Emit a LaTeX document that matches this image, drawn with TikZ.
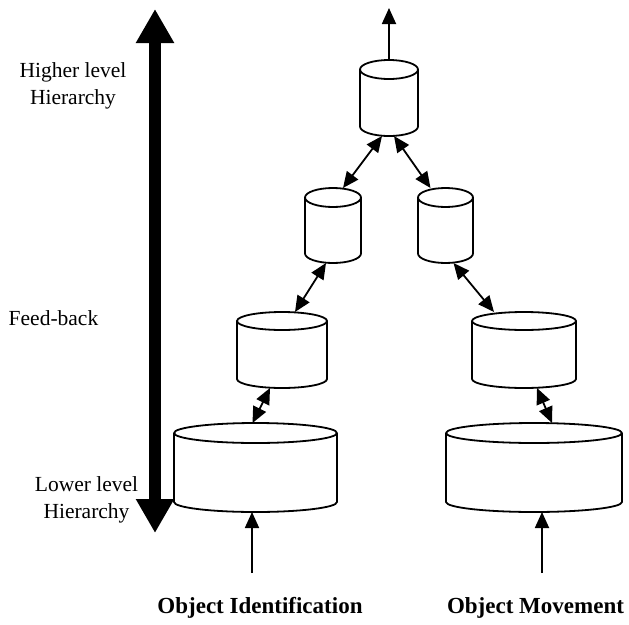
\documentclass[tikz,border=0pt]{standalone}
\usepackage{fontspec}
\setmainfont{Liberation Serif}
\usetikzlibrary{arrows.meta,calc}

\newcommand{\drawstore}[3]{%
  \draw[storeline] ($(#1.north west)+(0,#3)$) -- ($(#1.south west)+(0,-#3)$)
    arc[start angle=180, end angle=0, x radius=#2, y radius=#3]
    -- ($(#1.north east)+(0,#3)$);
  \draw[storeline] ($(#1.north)+(0,#3)$) ellipse[x radius=#2, y radius=#3];
}

\begin{document}
\begin{tikzpicture}[
    x=1pt, y=-1pt,
    store/.style={rectangle, inner sep=0pt, outer sep=0pt},
    storeline/.style={line width=1.8pt, line join=round},
    lbl/.style={font=\fontsize{21.5}{27.5}\selectfont, align=center},
    namelbl/.style={font=\fontsize{23}{27}\selectfont\bfseries},
    link/.style={{Triangle[length=16pt,width=14pt]}-{Triangle[length=16pt,width=14pt]},
        line width=1.8pt},
    feed/.style={-{Triangle[length=16pt,width=14pt]}, line width=1.8pt},
    level/.style={{Triangle[length=34pt,width=36pt]}-{Triangle[length=34pt,width=36pt]},
        line width=12pt}
]
\useasboundingbox (0,0) rectangle (629,624);

\node[store, minimum width=58pt, minimum height=76pt] (fuse) at (389,98) {};
\node[store, minimum width=56pt, minimum height=75pt] (idup) at (333,225.5) {};
\node[store, minimum width=55pt, minimum height=75pt] (mvup) at (445.5,225.5) {};
\node[store, minimum width=90pt, minimum height=76pt] (idmid) at (282,350) {};
\node[store, minimum width=104pt, minimum height=76pt] (mvmid) at (524,350) {};
\node[store, minimum width=163pt, minimum height=89pt] (idlow) at (255.5,467.5) {};
\node[store, minimum width=176pt, minimum height=89pt] (mvlow) at (534,467.5) {};

\drawstore{fuse}{29}{9.5}
\drawstore{idup}{28}{9.5}
\drawstore{mvup}{27.5}{9.5}
\drawstore{idmid}{45}{9}
\drawstore{mvmid}{52}{9}
\drawstore{idlow}{81.5}{10}
\drawstore{mvlow}{88}{10}

\node[lbl] (high) at (73,86) {Higher level\\Hierarchy};
\node[lbl] (fb) at (53.5,318) {Feed-back};
\node[lbl] (low) at (86.5,500) {Lower level\\Hierarchy};
\node[namelbl] (idname) at (260,608) {Object Identification};
\node[namelbl] (mvname) at (535.5,608) {Object Movement};

\coordinate (top) at (155,9);
\coordinate (bottom) at (155,533);
\coordinate (out) at (389,8);
\coordinate (idin) at (252,573);
\coordinate (mvin) at (542,573);

\draw[level] (bottom) -- (top);
\draw[feed] (fuse.north) -- (out);
\draw[feed] (idin) -- (idin |- idlow.south);
\draw[feed] (mvin) -- (mvin |- mvlow.south);

\draw[link] ([xshift=-7pt]fuse.south) -- ([xshift=10pt]idup.north);
\draw[link] ([xshift=5pt]fuse.south) -- ([xshift=-15pt]mvup.north);
\draw[link] ([xshift=-7pt]idup.south) -- ([xshift=13pt]idmid.north);
\draw[link] ([xshift=8pt]mvup.south) -- ([xshift=-30pt]mvmid.north);
\draw[link] ([xshift=-12pt]idmid.south) -- ([xshift=-3pt]idlow.north);
\draw[link] ([xshift=13pt]mvmid.south) -- ([xshift=18pt]mvlow.north);

\end{tikzpicture}
\end{document}
